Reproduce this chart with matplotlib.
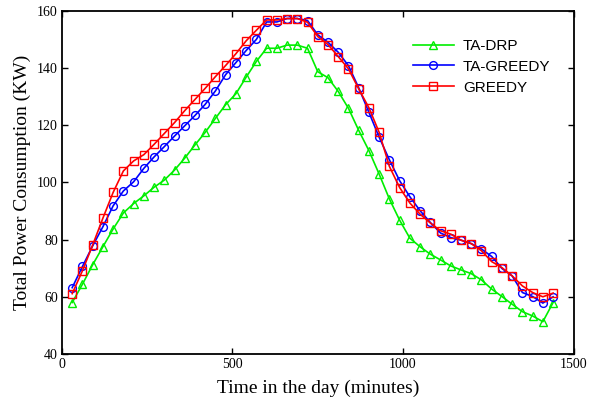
import matplotlib
matplotlib.use("Agg")
import matplotlib.pyplot as plt

time_min = [30, 60, 90, 120, 150, 180, 210, 240, 270, 300, 330, 360, 390, 420, 450, 480,
            510, 540, 570, 600, 630, 660, 690, 720, 750, 780, 810, 840, 870, 900, 930, 960,
            990, 1020, 1050, 1080, 1110, 1140, 1170, 1200, 1230, 1260, 1290, 1320, 1350, 1380, 1410, 1440]

ta_drp = [58.0, 64.4, 71.2, 77.5, 83.7, 89.3, 92.6, 95.3, 98.3, 100.8, 104.3, 108.5, 113.1, 117.5, 122.4, 127.2,
          131.0, 136.8, 142.3, 146.9, 146.9, 148.0, 148.0, 146.9, 138.7, 136.6, 131.8, 125.9, 118.2, 111.1, 102.9, 94.2,
          86.8, 80.5, 77.5, 74.9, 72.9, 70.8, 69.4, 68.1, 65.9, 62.7, 60.1, 57.4, 54.8, 53.3, 51.3, 58.0]

ta_greedy = [63.2, 70.6, 77.8, 84.5, 91.8, 97.0, 100.2, 104.9, 108.9, 112.5, 116.2, 119.8, 123.4, 127.3, 132.0, 137.7,
             141.9, 146.1, 150.0, 156.1, 156.1, 157.3, 157.3, 156.6, 151.6, 149.0, 145.5, 140.8, 133.1, 124.5, 115.8, 107.9,
             100.6, 95.0, 90.1, 86.0, 82.3, 80.7, 79.8, 78.6, 76.7, 74.1, 69.9, 67.3, 61.5, 60.1, 57.8, 60.0]

greedy = [61.1, 69.1, 78.1, 87.5, 96.5, 104.0, 107.5, 109.7, 113.3, 117.1, 120.9, 125.1, 129.0, 132.9, 137.0, 140.9,
          145.0, 149.5, 153.2, 156.8, 156.8, 157.3, 157.3, 156.0, 151.0, 148.2, 144.0, 139.7, 132.7, 126.1, 117.5, 105.6,
          98.2, 92.8, 88.9, 85.8, 83.1, 81.9, 79.8, 78.6, 76.1, 72.3, 70.2, 67.3, 63.8, 61.5, 60.0, 61.3]

series_names = ["TA-DRP", "TA-GREEDY", "GREEDY"]

fig = plt.figure(figsize=(6.04, 4.0), dpi=100)
ax = fig.add_axes([0.1026, 0.115, 0.847, 0.858])

ms = 5.6
ax.plot(time_min, ta_drp, color="#00ee00", marker="^", markersize=ms + 0.4, markerfacecolor="none",
        markeredgewidth=1.0, linewidth=1.2, label=series_names[0])
ax.plot(time_min, ta_greedy, color="#0000ff", marker="o", markersize=ms, markerfacecolor="none",
        markeredgewidth=1.0, linewidth=1.2, label=series_names[1])
ax.plot(time_min, greedy, color="#ff0000", marker="s", markersize=ms, markerfacecolor="none",
        markeredgewidth=1.0, linewidth=1.2, label=series_names[2])

ax.set_xlim(0, 1500)
ax.set_ylim(40, 160)
ax.set_xticks([0, 500, 1000, 1500])
ax.set_yticks([40, 60, 80, 100, 120, 140, 160])

serif = ["Liberation Serif", "DejaVu Serif"]
for lab in ax.get_xticklabels() + ax.get_yticklabels():
    lab.set_fontfamily(serif)
    lab.set_fontsize(10)
ax.tick_params(direction="in", top=True, right=True, length=4, width=1, pad=3)
for s in ax.spines.values():
    s.set_linewidth(1.3)

ax.set_xlabel("Time in the day (minutes)", fontfamily=serif, fontsize=14, labelpad=6)
ax.set_ylabel("Total Power Consumption (KW)", fontfamily=serif, fontsize=14, labelpad=4)

leg = ax.legend(loc="upper right", bbox_to_anchor=(0.982, 0.958), frameon=False,
                prop={"family": ["Liberation Sans", "DejaVu Sans"], "size": 11},
                handlelength=2.7, labelspacing=0.45, handletextpad=0.6)

fig.savefig("out.png", dpi=100)
